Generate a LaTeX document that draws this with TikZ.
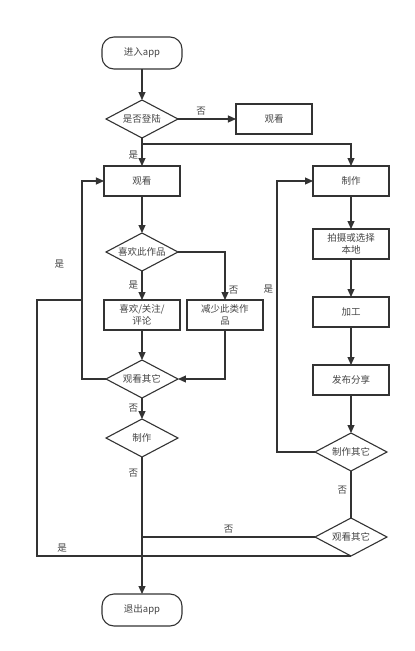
\documentclass[tikz,border=0pt]{standalone}
\usepackage{fontspec}
\usepackage{tikz}
\usetikzlibrary{shapes.geometric, arrows.meta, positioning, calc}
\newfontfamily\cjk{Noto Sans CJK SC}
\definecolor{flowline}{RGB}{51,51,51}
\definecolor{flowtext}{RGB}{68,68,68}

\begin{document}
\begin{tikzpicture}[
    node distance=30pt,
    every node/.style={font=\cjk\fontsize{9.5}{12}\selectfont, text=flowtext},
    term/.style={rectangle, rounded corners=12pt, draw=flowline, line width=1.1pt,
                 minimum width=80pt, minimum height=32pt, align=center, outer sep=0pt},
    box/.style={rectangle, draw=flowline, line width=1.1pt, minimum width=76pt,
                minimum height=30pt, align=center, inner sep=2pt, outer sep=0pt},
    decide/.style={diamond, draw=flowline, line width=1.1pt, aspect=1.9,
                   minimum width=72pt, minimum height=38pt, inner sep=0pt, outer sep=0pt},
    arrow/.style={-{Triangle[length=8pt,width=7pt]}, line width=1.1pt, color=flowline},
    link/.style={line width=1.1pt, color=flowline}
  ]
    \useasboundingbox (-142pt,53pt) rectangle (273pt,-598pt);

    \node[term] (start) at (0,0) {进入app};
    \node[decide, below=31pt of start] (login) {是否登陆};
    \node[box, right=58pt of login] (look) {观看};
    \node[box, below=28pt of login] (watch) {观看};
    \node[box, right=133pt of watch] (make) {制作};

    \node[decide, below=37pt of watch] (like) {喜欢此作品};
    \node[box, below=29pt of like] (likebox) {喜欢/关注/\\评论};
    \node[box, right=7pt of likebox] (less) {减少此类作\\品};
    \node[decide, below=30pt of likebox] (other) {观看其它};
    \node[decide, below=21pt of other] (create) {制作};
    \node[term, below=137pt of create] (exit) {退出app};

    \node[box, below=33pt of make] (shoot) {拍摄或选择\\本地};
    \node[box, below=38pt of shoot] (edit) {加工};
    \node[box, below=38pt of edit] (publish) {发布分享};
    \node[decide, below=38pt of publish] (makeother) {制作其它};
    \node[decide, below=47pt of makeother] (watchother) {观看其它};

    \coordinate (split) at ($(login.south)+(0,-6pt)$);
    \coordinate (wloop) at ($(other.west)+(-24pt,0)$);
    \coordinate (mloop) at ($(makeother.west)+(-38pt,0)$);
    \coordinate (wjoin) at ($(wloop)+(0,79pt)$);
    \coordinate (outer) at ($(wjoin)+(-45pt,0)$);
    \coordinate (merge) at (create.south |- watchother.west);

    \draw[arrow] (start) -- (login);
    \draw[arrow] (login.east) -- node[above, pos=0.4] {否} (look);
    \draw[arrow] (login.south) -- node[left, pos=0.6] {是} (watch);
    \draw[arrow] (split) -| (make.north);

    \draw[arrow] (watch) -- (like);
    \draw[arrow] (like.south) -- node[left] {是} (likebox);
    \draw[arrow] (like.east) -| node[right, pos=0.9] {否} (less.north);
    \draw[arrow] (likebox) -- (other);
    \draw[arrow] (less.south) |- (other.east);
    \draw[arrow] (other.west) -- (wloop) |- node[left=14pt, pos=0.29] {是} (watch.west);
    \draw[arrow] (other.south) -- node[left] {否} (create.north);
    \draw[arrow] (create.south) -- node[left, pos=0.12] {否} (exit.north);

    \draw[arrow] (make) -- (shoot);
    \draw[arrow] (shoot) -- (edit);
    \draw[arrow] (edit) -- (publish);
    \draw[arrow] (publish) -- (makeother);
    \draw[arrow] (makeother.west) -- (mloop) |- node[left, pos=0.3] {是} (make.west);
    \draw[link] (makeother.south) -- node[left, pos=0.4] {否} (watchother.north);
    \draw[link] (watchother.west) -- node[above] {否} (merge);
    \draw[link] (watchother.south) -| node[above, pos=0.46] {是} (outer) -- (wjoin);
  \end{tikzpicture}
\end{document}
